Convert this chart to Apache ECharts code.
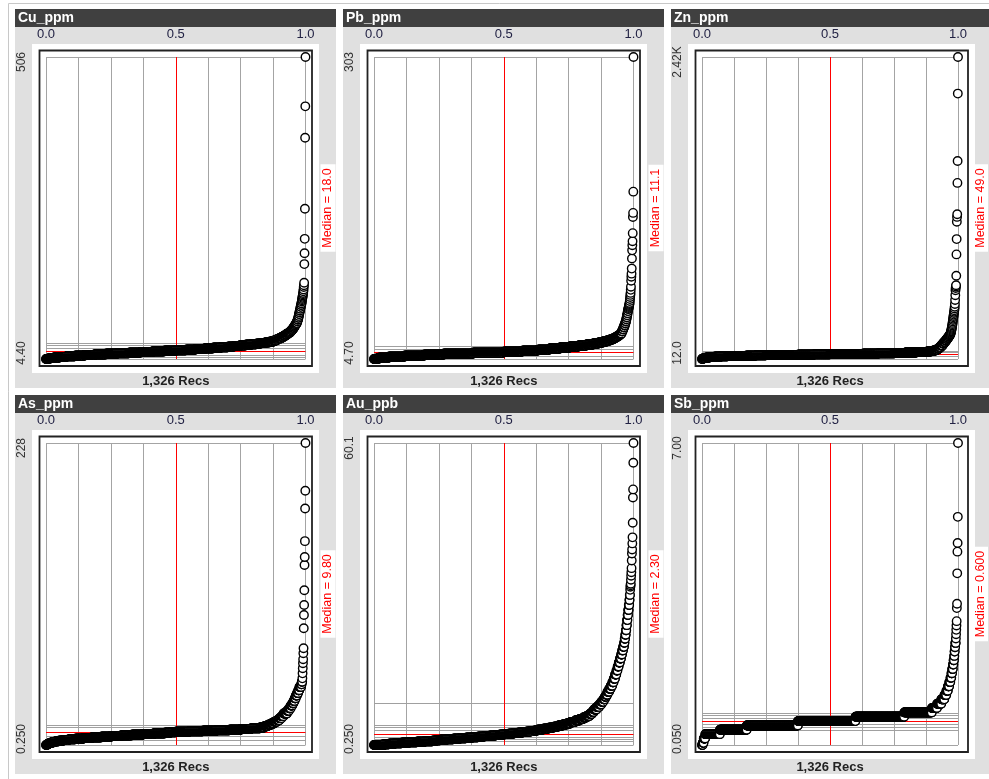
<!DOCTYPE html>
<html><head><meta charset="utf-8">
<script src="https://cdn.jsdelivr.net/npm/echarts@6/dist/echarts.min.js"></script>
<style>html,body{margin:0;padding:0;background:#fff}#c{width:989px;height:779px}</style>
</head><body><div id="c"></div>
<script>
// ---- data: sorted record values as (value level, record count) ----
const cuVals = [4.4,5,6,7,8, 9,10,11,12, 13,14,15,16,17,18, 19,20,21,22,23,24,25,26, 27,28,29,30,31,32,33,
  35,37,39,41,43,45,47,48, 50,52,54,56,58,60,62,64, 67,70,73,76,79,82,85,88,91,94,97,
  100,102,104,106,108,110,112, 114,117,120,124,127,131,162,180,204,254,372,424,506];
const cuCnts = [8,12,22,28,36, 42,48,52,58, 58,60,60,60,60,59, 52,50,46,42,40,36,32,29, 30,28,26,24,22,21,19,
  17,14,12,11,10,9,7,6, 6,5,5,4,4,4,4,4, 3,3,2,2,2,2,2,2,2,2,2,
  1,1,1,1,1,1,1, 1,1,1,1,1,1,1,1,1,1,1,1,1];

const pbVals = [4.7,5,6,7,8,9, 10,11, 12,13,14,15, 16,17,18,19, 20,21,22,23,24, 25,26,27,28,29,30, 32,34,36,38,
  40,42,44,46,48,50,52,54,
  55,56,57,58,59,60,62,64,66,68,70,73,76,82,86,89,94,104,112,117,121,129,145,149,170,303];
const pbCnts = [10,15,50,80,100,100, 150,158, 95,80,60,53, 50,45,40,34, 28,22,20,16,14, 10,9,8,7,6,5, 5,4,4,4,
  3,3,2,2,2,2,2,2,
  1,1,1,1,1,1,1,1,1,1,1,1,1,1,1,1,1,1,1,1,1,1,1,1,1,1];

const znVals = [12,15,18,21,24, 27,30,33, 35,37,39,41, 43,45,47,49, 51,53,55,58, 61,64,68, 72,76,80,85,
  95,105,120, 135,148,160, 172,182,192,200,207,
  213,219,225,231,238,246,254,262,270,280,290,300,311,322,333,344,355,366,378,389,400,415,429,450,482,520,560,578,590,600,676,846,968,1106,1145,1166,1416,1591,2128,2420];
const znCnts = [3,5,7,10,15, 25,32,36, 45,50,52,52, 80,85,85,81, 85,85,82,80, 60,55,57, 18,14,11,10,
  9,8,9, 7,7,6, 5,5,4,3,3,
  1,1,1,1,1,1,1,1,1,1,1,1,1,1,1,1,1,1,1,1,1,1,1,1,1,1,1,1,1,1,1,1,1,1,1,1,1,1,1,1];

const asVals = [0.25,0.5,1,1.5,2,2.5,3, 3.5,4,4.5,5,5.5,6,6.5, 7,7.5,8,8.5,9,9.5,9.8, 10.2,10.6,11,11.4,11.8, 12.3,12.8,
  13.5,14.5,15.5,16.5,17.8, 19,20.5,22,24, 26,28,30,31.7, 33.5,35.5,37.5,39.5,41.5,44, 46,48,
  50.5,54.3,58.1,61.9,64.9,69.4,73.2,88.3,98.3,105.8,117,136,142,154,178.6,192,228];
const asCnts = [4,4,6,8,12,14,18, 22,28,34,40,44,48,50, 52,54,56,56,57,28,28, 68,70,70,66,58, 52,47,
  22,18,16,15,15, 12,11,10,18, 10,9,8,6, 6,6,6,6,6,9, 3,3,
  1,1,1,1,1,1,1,1,1,1,1,1,1,1,1,1,1];

const auVals = [0.25,0.3,0.4,0.5, 0.6,0.7,0.8,0.9,1.0,1.1,1.2, 1.3,1.4,1.5,1.6,1.7,1.8,1.9,2.0,2.1,2.2,2.3,
  2.4,2.5,2.6,2.7,2.8,2.9,3.0,3.1, 3.3,3.5,3.7,3.9,4.1,4.3,4.5, 4.8,5.1,5.4,5.7,6.0,6.4,6.8,
  7.3,7.8,8.3,8.8,9.3,9.8,10.2, 10.8,11.4,12.0,12.7,13.4,14.2,15.0, 15.8,16.6,17.4,18.2,19.0,19.7,
  20.5,21.3,22.1,23,24, 25,26,27,28,29,30,31,
  31.6,31.9,32.2,33,33.8,34.5,35.3,36.8,38.2,39.0,40.2,41.4,44.3,49.3,50.9,56.2,60.1];
const auCnts = [40,15,22,29, 35,38,40,40,40,20,19, 34,33,33,32,31,30,30,29,28,23,22,
  25,24,23,22,21,20,19,18, 30,28,26,24,22,20,19, 24,22,19,17,15,12,10,
  14,13,11,10,8,7,6, 9,8,8,7,7,7,6, 6,6,6,5,5,5,
  3,3,3,3,3, 3,3,3,3,2,2,1,
  1,1,1,1,1,1,1,1,1,1,1,1,1,1,1,1,1];

const sbVals = [0.05,0.1,0.2,0.3,0.4,0.5,0.6,0.7,0.8,0.9,1.0,1.1,1.2,1.3,1.4,1.5,1.6,1.7,1.8,1.9,2.0,2.1,2.2,2.3,2.4,
  2.5,2.6,2.7,2.8,2.9,3.2,3.3,4.0,4.5,4.7,5.3,7.0];
const sbCnts = [4,5,8,76,139,265,298,252,143,27,22,16,10,8,7,6,5,4,4,3,3,2,2,2,3,
  1,1,1,1,1,1,1,1,1,1,1,1];

// ---- labels and reference lines ----
const panelNames = ['Cu_ppm','Pb_ppm','Zn_ppm','As_ppm','Au_ppb','Sb_ppm'];
const medians = [18.0, 11.1, 49.0, 9.80, 2.30, 0.600];
const medianLabels = ['18.0','11.1','49.0','9.80','2.30','0.600'];
const yTickLabels = [['4.40','506'],['4.70','303'],['12.0','2.42K'],['0.250','228'],['0.250','60.1'],['0.050','7.00']];
const refLines = [[7, 11, 23, 27, 30.5],[7.7, 14.3, 16.9],[30, 62, 72],[4.0, 6.5, 14.0, 15.5],
  [0.9, 1.38, 1.77, 3.2, 3.75, 4.2, 8.5],[0.39, 0.46, 0.53, 0.67, 0.74, 0.78]];
const xTickVals = [0, 0.5, 1];
const xTickLabels = ['0.0','0.5','1.0'];

const panelVals = [cuVals, pbVals, znVals, asVals, auVals, sbVals];
const panelCnts = [cuCnts, pbCnts, znCnts, asCnts, auCnts, sbCnts];

function expand(vals, cnts){ const out=[]; vals.forEach((v,i)=>{ for(let k=0;k<cnts[i];k++) out.push(v); }); return out; }

const FONT = '"Liberation Sans", Arial, sans-serif';
const colW = 328, rowH = 386;
const grids=[], xAxes=[], yAxes=[], series=[], graphics=[];
graphics.push({type:'rect', shape:{x:8.5,y:3.5,width:1000,height:800}, style:{fill:'none', stroke:'#c8c8c8', lineWidth:1}, z:-20, silent:true});

panelNames.forEach((name, g) => {
  const c = g % 3, r = Math.floor(g / 3);
  const dx = c * colW, dy = r * rowH;
  const vals = expand(panelVals[g], panelCnts[g]);
  const n = vals.length;
  const yMin = Math.min(...vals), yMax = Math.max(...vals);
  const data = vals.map((v, i) => [i / (n - 1), v]);

  graphics.push({type:'rect', shape:{x:15+dx, y:27+dy, width:321, height:361}, style:{fill:'#e0e0e0'}, z:-15, silent:true});
  graphics.push({type:'rect', shape:{x:15+dx, y:9+dy, width:321, height:18}, style:{fill:'#404040'}, z:-15, silent:true});
  graphics.push({type:'text', x:18+dx, y:18.5+dy, style:{text:name, fill:'#ffffff', font:'bold 14px '+FONT, verticalAlign:'middle'}, z:-14, silent:true});
  graphics.push({type:'rect', shape:{x:32+dx, y:44+dy, width:287, height:329}, style:{fill:'#ffffff'}, z:-15, silent:true});
  graphics.push({type:'rect', shape:{x:39.5+dx, y:50.5+dy, width:272.5, height:315.5}, style:{fill:'none', stroke:'#222222', lineWidth:1.8}, z:-14, silent:true});

  grids.push({left:46+dx, top:57+dy, width:259.5, height:302});
  const lab = yTickLabels[g];
  xAxes.push({gridIndex:g, type:'value', position:'top', min:0, max:1, interval:0.125,
    axisLine:{show:false}, axisTick:{show:false},
    splitLine:{show:true, lineStyle:{color:'#a4a4a4', width:1}},
    axisLabel:{margin:16, fontSize:13, color:'#222244', fontFamily:FONT, hideOverlap:false,
      formatter: v => { const k = xTickVals.indexOf(Math.round(v*1000)/1000); return k >= 0 ? xTickLabels[k] : ''; }}});
  xAxes.push({gridIndex:g, type:'value', position:'bottom', min:0, max:1,
    axisLine:{show:false}, axisTick:{show:false}, axisLabel:{show:false}, splitLine:{show:false},
    name: n.toLocaleString('en-US') + ' Recs', nameLocation:'middle', nameGap:16,
    nameTextStyle:{fontWeight:'bold', fontSize:13, color:'#222222', fontFamily:FONT}});
  yAxes.push({gridIndex:g, type:'value', position:'left', min:yMin, max:yMax, interval:yMax - yMin,
    axisLine:{show:false}, axisTick:{show:false},
    splitLine:{show:true, lineStyle:{color:'#a4a4a4', width:1}},
    axisLabel:{rotate:90, margin:18, color:'#333333', fontSize:12, fontFamily:FONT, hideOverlap:false,
      formatter:(v, i) => i === 0 ? '{b|' + lab[0] + '}' : '{t|' + lab[1] + '}',
      rich:{b:{padding:[0,0,0,12], fontSize:12, fontFamily:FONT, color:'#333333'},
            t:{padding:[0,10,0,0], fontSize:12, fontFamily:FONT, color:'#333333'}}}});
  yAxes.push({gridIndex:g, type:'value', position:'right', min:yMin, max:yMax,
    axisLine:{show:false}, axisTick:{show:false}, axisLabel:{show:false}, splitLine:{show:false},
    name:'Median = ' + medianLabels[g], nameLocation:'middle', nameRotate:90, nameGap:15,
    nameTextStyle:{color:'#ff0000', fontSize:12.5, fontFamily:FONT, backgroundColor:'#ffffff', padding:[1,4,1,4]}});

  const mlData = refLines[g].map(v => ({yAxis:v, lineStyle:{color:'#a0a0a0', width:1, type:'solid'}}));
  mlData.push({yAxis:medians[g], lineStyle:{color:'#ff0000', width:1, type:'solid'}});
  mlData.push({xAxis:0.5, lineStyle:{color:'#ff0000', width:1, type:'solid'}});

  series.push({type:'scatter', xAxisIndex:2*g, yAxisIndex:2*g, data:data, z:3, silent:true,
    symbol:'circle', symbolSize:8.5,
    itemStyle:{color:'#ffffff', borderColor:'#000000', borderWidth:1.4, opacity:1},
    emphasis:{disabled:true},
    markLine:{silent:true, z:1, symbol:['none','none'], label:{show:false}, animation:false, data:mlData}});
});

const chart = echarts.init(document.getElementById('c'), null, {renderer:'canvas'});
chart.setOption({
  backgroundColor:'#ffffff', animation:false,
  textStyle:{fontFamily:FONT},
  grid:grids, xAxis:xAxes, yAxis:yAxes, series:series, graphic:graphics
});
</script></body></html>
